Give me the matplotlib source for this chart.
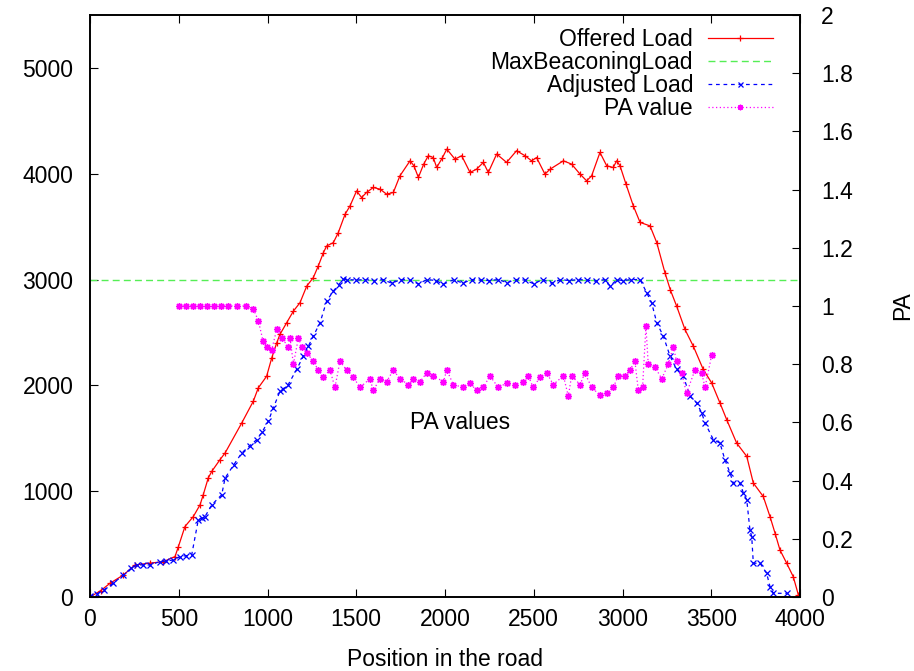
import matplotlib
matplotlib.use("Agg")
import matplotlib.pyplot as plt
from matplotlib.ticker import FormatStrFormatter

plt.rcParams['font.family'] = ['Liberation Sans', 'DejaVu Sans']

# Offered Load (red)
off_x = [0, 60, 113, 188, 254, 338, 413, 479, 498, 535, 582, 620, 638, 666, 686,
         732, 761, 855, 920, 948, 995, 1024, 1052, 1070, 1108, 1146, 1183, 1221,
         1258, 1286, 1315, 1333, 1371, 1399, 1437, 1465, 1502, 1530, 1558, 1596,
         1634, 1671, 1709, 1746, 1803, 1825, 1850, 1880, 1906, 1934, 1953, 1985,
         2010, 2056, 2094, 2141, 2178, 2216, 2244, 2291, 2347, 2403, 2451, 2488,
         2516, 2563, 2592, 2667, 2713, 2761, 2798, 2826, 2873, 2911, 2948, 2967,
         2986, 3020, 3061, 3099, 3155, 3193, 3239, 3270, 3305, 3352, 3399, 3455,
         3502, 3549, 3587, 3643, 3700, 3737, 3793, 3831, 3860, 3887, 3925, 3962, 3991]
off_y = [0, 60, 130, 208, 303, 320, 334, 382, 476, 666, 760, 871, 966, 1124, 1187,
         1297, 1361, 1645, 1850, 1976, 2086, 2260, 2402, 2481, 2592, 2702, 2781, 2938,
         3018, 3128, 3254, 3317, 3349, 3444, 3617, 3696, 3838, 3775, 3823, 3870,
         3854, 3807, 3823, 3980, 4122, 4075, 3965, 4091, 4170, 4153, 4059, 4150,
         4233, 4138, 4170, 4012, 4043, 4107, 4012, 4186, 4107, 4217, 4170, 4122,
         4153, 3996, 4043, 4122, 4091, 3996, 3933, 3980, 4201, 4075, 4059, 4122,
         4075, 3900, 3696, 3540, 3507, 3349, 3065, 2900, 2749, 2528, 2370, 2150,
         2024, 1834, 1676, 1455, 1329, 1077, 950, 760, 600, 445, 319, 192, 19]

# MaxBeaconingLoad (green)
max_x = [0, 4000]
max_y = [3000, 3000]

# Adjusted Load (blue)
adj_x = [0, 40, 80, 131, 188, 230, 263, 300, 338, 394, 430, 469, 507, 540, 573,
         610, 630, 648, 686, 742, 761, 810, 855, 900, 939, 970, 1004, 1033, 1070,
         1090, 1117, 1164, 1202, 1230, 1258, 1296, 1333, 1371, 1400, 1427,
         1450, 1500, 1550, 1600, 1650, 1700, 1750, 1800, 1850, 1900, 1950, 1990,
         2050, 2100, 2150, 2200, 2250, 2300, 2350, 2400, 2450, 2500, 2550, 2600,
         2650, 2700, 2750, 2800, 2850, 2900, 2930, 2970, 3000, 3050, 3099,
         3136, 3164, 3193, 3230, 3268, 3305, 3343, 3380, 3418, 3446, 3465, 3512,
         3549, 3577, 3606, 3624, 3662, 3681, 3700, 3718, 3728, 3737, 3775, 3812,
         3831, 3850, 3925]
adj_y = [10, 30, 70, 130, 208, 270, 303, 303, 303, 334, 340, 350, 382, 390, 398,
         729, 745, 760, 871, 966, 1124, 1250, 1361, 1430, 1487, 1560, 1660, 1787, 1944,
         1970, 2008, 2150, 2276, 2370, 2465, 2592, 2796, 2891, 2950, 3002,
         3000, 2995, 3000, 2990, 3000, 2965, 3000, 2995, 2960, 3000, 2990, 2955,
         3000, 2965, 3000, 2995, 2990, 3000, 2970, 3000, 2995, 2960, 3000, 2965,
         3000, 2990, 3000, 2995, 2985, 3000, 2940, 3000, 2990, 3000, 3000,
         2876, 2781, 2592, 2465, 2276, 2150, 2086, 1897, 1834, 1740, 1645, 1487,
         1455, 1297, 1171, 1077, 1077, 982, 918, 634, 571, 319, 319, 224,
         98, 35, 35]

# PA value (magenta, right axis)
pa_x = [500, 540, 580, 620, 660, 700, 740, 780, 830, 880, 920, 948, 975, 995, 1024,
        1052, 1080, 1117, 1127, 1146, 1174, 1192, 1221, 1258, 1286, 1315, 1352, 1380,
        1408, 1446, 1483, 1521, 1577, 1596, 1634, 1671, 1709, 1746, 1793, 1821, 1859,
        1897, 1934, 1991, 2010, 2047, 2103, 2141, 2178, 2216, 2253, 2300, 2347, 2394,
        2441, 2469, 2497, 2535, 2573, 2610, 2667, 2695, 2713, 2761, 2788, 2826, 2873,
        2911, 2948, 2976, 3014, 3042, 3070, 3089, 3113, 3132, 3145, 3183, 3221, 3258,
        3286, 3305, 3333, 3361, 3408, 3446, 3465, 3502]
pa_y = [1.0, 1.0, 1.0, 1.0, 1.0, 1.0, 1.0, 1.0, 1.0, 1.0, 0.99, 0.95, 0.88, 0.86, 0.85,
        0.92, 0.89, 0.86, 0.89, 0.80, 0.89, 0.86, 0.84, 0.81, 0.78, 0.756, 0.78, 0.72,
        0.81, 0.78, 0.756, 0.72, 0.75, 0.71, 0.75, 0.74, 0.78, 0.75, 0.73, 0.75, 0.74,
        0.77, 0.76, 0.74, 0.78, 0.73, 0.72, 0.735, 0.71, 0.72, 0.76, 0.72, 0.735, 0.73,
        0.74, 0.76, 0.72, 0.755, 0.77, 0.73, 0.76, 0.69, 0.76, 0.73, 0.77, 0.72, 0.694,
        0.70, 0.72, 0.76, 0.76, 0.78, 0.81, 0.71, 0.72, 0.93, 0.80, 0.79, 0.75, 0.80,
        0.86, 0.81, 0.77, 0.70, 0.78, 0.77, 0.72, 0.83]

x_ticks = [0, 500, 1000, 1500, 2000, 2500, 3000, 3500, 4000]
y_ticks = [0, 1000, 2000, 3000, 4000, 5000]
pa_ticks = [0, 0.2, 0.4, 0.6, 0.8, 1, 1.2, 1.4, 1.6, 1.8, 2]

fs = 16.5
fig = plt.figure(figsize=(9.14, 6.71), dpi=100)
ax = fig.add_axes([90 / 914, 74 / 671, 710 / 914, 582 / 671])
ax2 = ax.twinx()

l1, = ax.plot(off_x, off_y, color='#ff0000', lw=0.9, marker='+', ms=5, mew=0.9,
              label='Offered Load')
l2, = ax.plot(max_x, max_y, color='#55ee55', lw=1.0, ls=(0, (5, 3)),
              label='MaxBeaconingLoad')
l3, = ax.plot(adj_x, adj_y, color='#0000ff', lw=0.9, ls=(0, (3, 3)), marker='x',
              ms=4.5, mew=0.9, label='Adjusted Load')
l4, = ax2.plot(pa_x, pa_y, color='#ff00ff', lw=0.9, ls=(0, (1, 2)),
               marker=(8, 2, 0), ms=5, mew=1.0, label='PA value')

ax.set_xlim(0, 4000)
ax.set_ylim(0, 5500)
ax2.set_ylim(0, 2)
ax.set_xticks(x_ticks)
ax.set_yticks(y_ticks)
ax2.set_yticks(pa_ticks)
ax2.yaxis.set_major_formatter(FormatStrFormatter('%g'))

ax.tick_params(axis='x', direction='in', top=True, length=6, labelsize=fs, pad=8)
ax.tick_params(axis='y', direction='in', length=6, labelsize=fs, pad=12)
ax2.tick_params(axis='y', direction='in', length=6, labelsize=fs, pad=15)
for a in (ax, ax2):
    for s in a.spines.values():
        s.set_linewidth(1.2)

ax.set_xlabel('Position in the road', fontsize=fs, labelpad=12)
ax2.set_ylabel('PA', fontsize=fs, labelpad=28)

ax.text(1800, 1650, 'PA values', fontsize=fs, va='center', ha='left')

ax.legend(handles=[l1, l2, l3, l4], loc='upper right', bbox_to_anchor=(0.962, 0.977),
          frameon=False, markerfirst=False, fontsize=fs, handlelength=2.84,
          handletextpad=0.65, labelspacing=0.0, borderaxespad=0, borderpad=0,
          markerscale=0.8)

fig.savefig('out.png', dpi=100)
